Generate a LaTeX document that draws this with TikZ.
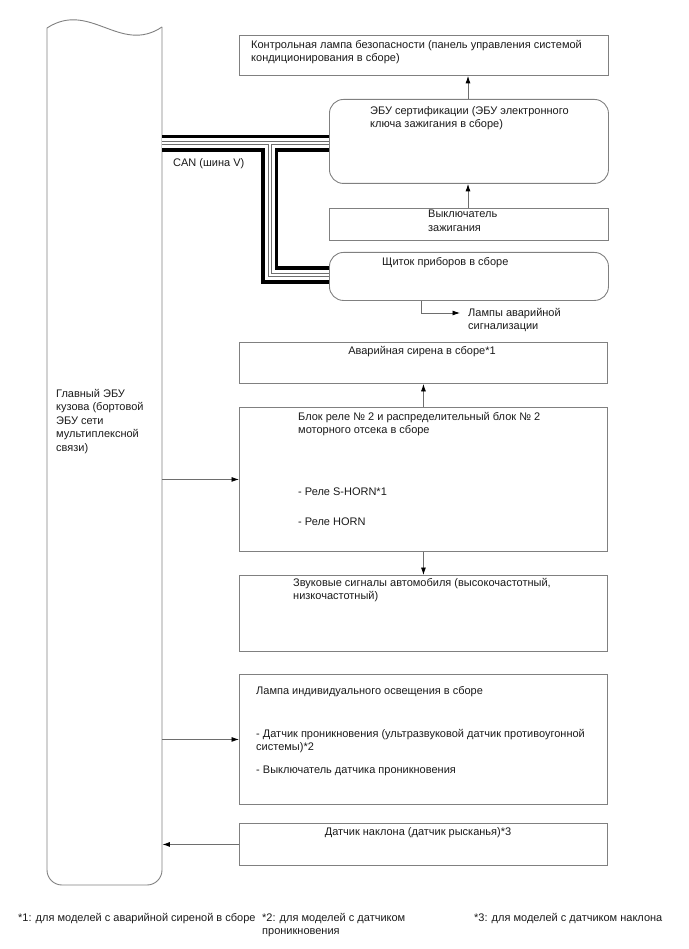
\documentclass[tikz,border=0pt]{standalone}
\usepackage{fontspec}
\setmainfont{Liberation Sans}
\usetikzlibrary{arrows.meta,calc}
\definecolor{edge}{HTML}{808080}
\definecolor{wire}{HTML}{6E6E6E}
\definecolor{ink}{HTML}{1A1A1A}
\begin{document}
\begin{tikzpicture}[x=1pt,y=-1pt,
  box/.style={draw=edge,line width=0.9pt,inner sep=0,anchor=north west},
  rbox/.style={box,rounded corners=14pt},
  txt/.style={inner sep=0,anchor=north west,align=left,text=ink,font=\fontsize{11}{13.5}\selectfont},
  ctxt/.style={txt,anchor=north,align=center},
  arr/.style={draw=wire,line width=0.8pt,-{Latex[length=7.5pt,width=5pt,color=black]}},
  ]
\useasboundingbox (0,0) rectangle (688,949);
% main ECU
\node[inner sep=0,minimum width=115pt,minimum height=857pt,anchor=north west] (ecu) at (47,28) {};
\draw[edge,line width=0.9pt] (47,28) .. controls (90,0) and (120,55) .. (162,27);
\draw[edge,line width=0.9pt,rounded corners=15pt] (162,27) -- (162,885) -- (47,885) -- (47,28);
\node[txt] (ecutxt) at (56,389) {Главный ЭБУ\\кузова (бортовой\\ЭБУ сети\\мультиплексной\\связи)};
% boxes
\node[box,minimum width=369pt,minimum height=40pt] (lamp) at (239,35) {};
\node[rbox,minimum width=279pt,minimum height=84pt] (cert) at (329,99) {};
\node[box,minimum width=279pt,minimum height=32pt] (ign) at (329,208) {};
\node[rbox,minimum width=279pt,minimum height=48pt] (cluster) at (329,252) {};
\node[box,minimum width=368pt,minimum height=41pt] (siren) at (239,342) {};
\node[box,minimum width=368pt,minimum height=144pt] (relay) at (239,407) {};
\node[box,minimum width=368pt,minimum height=76pt] (horns) at (239,575) {};
\node[box,minimum width=368pt,minimum height=130pt] (indiv) at (239,674) {};
\node[box,minimum width=368pt,minimum height=42pt] (tilt) at (239,823) {};
% texts
\node[txt] (lamptxt) at (251,40) {Контрольная лампа безопасности (панель управления системой\\кондиционирования в сборе)};
\node[txt] (certtxt) at (370,106) {ЭБУ сертификации (ЭБУ электронного\\ключа зажигания в сборе)};
\node[txt] (igntxt) at (428,210) {Выключатель\\зажигания};
\node[txt] (clustertxt) at (382,257) {Щиток приборов в сборе};
\node[txt] (haz) at (468,308) {Лампы аварийной\\сигнализации};
\node[ctxt] (sirentxt) at (422,346) {Аварийная сирена в сборе*1};
\node[txt] (relaytxt) at (298,412) {Блок реле № 2 и распределительный блок № 2\\моторного отсека в сборе};
\node[txt] (relay1) at (298,488) {- Реле S-HORN*1};
\node[txt] (relay2) at (298,518) {- Реле HORN};
\node[txt] (hornstxt) at (293,578) {Звуковые сигналы автомобиля (высокочастотный,\\низкочастотный)};
\node[txt] (indivtxt) at (256,686) {Лампа индивидуального освещения в сборе};
\node[txt] (indiv1) at (256,729) {- Датчик проникновения (ультразвуковой датчик противоугонной\\системы)*2};
\node[txt] (indiv2) at (256,766) {- Выключатель датчика проникновения};
\node[ctxt] (tilttxt) at (418,827) {Датчик наклона (датчик рысканья)*3};
\node[txt] (cantxt) at (173,158) {CAN (шина V)};
\node[txt] (foot1) at (18,913) {*1: для моделей с аварийной сиреной в сборе};
\node[txt] (foot2) at (262,913) {*2: для моделей с датчиком\\проникновения};
\node[txt] (foot3) at (474,913) {*3: для моделей с датчиком наклона};
% helper coordinates
\coordinate (xa) at (468,0);
\coordinate (xh) at (421,0);
\coordinate (busT) at (269.5,143.5);
\coordinate (busC) at (269.5,275);
\coordinate (hazend) at (460,313);
% arrows
\draw[arr] (cert.north -| xa) -- (lamp.south -| xa);
\draw[arr] (ign.north -| xa) -- (cert.south -| xa);
\draw[arr] (cluster.south -| xh) -- (xh |- hazend) -- (hazend);
\draw[arr] (relay.north) -- (siren.south);
\draw[arr] (relay.south) -- (horns.north);
\draw[arr] (ecu.east |- relay.west) -- (relay.west);
\draw[arr] (ecu.east |- indiv.west) -- (indiv.west);
\draw[arr] (tilt.west) -- (ecu.east |- tilt.west);
% CAN bus
\foreach \w/\c in {17/black,10/white,4/wire,2/white}{
  \draw[line width=\w pt,\c] (ecu.east |- busT) -- (cert.west |- busT);
  \draw[line width=\w pt,\c] (ecu.east |- busT) -- (busT) -- (busC) -- (cluster.west |- busC);
}
\end{tikzpicture}
\end{document}
